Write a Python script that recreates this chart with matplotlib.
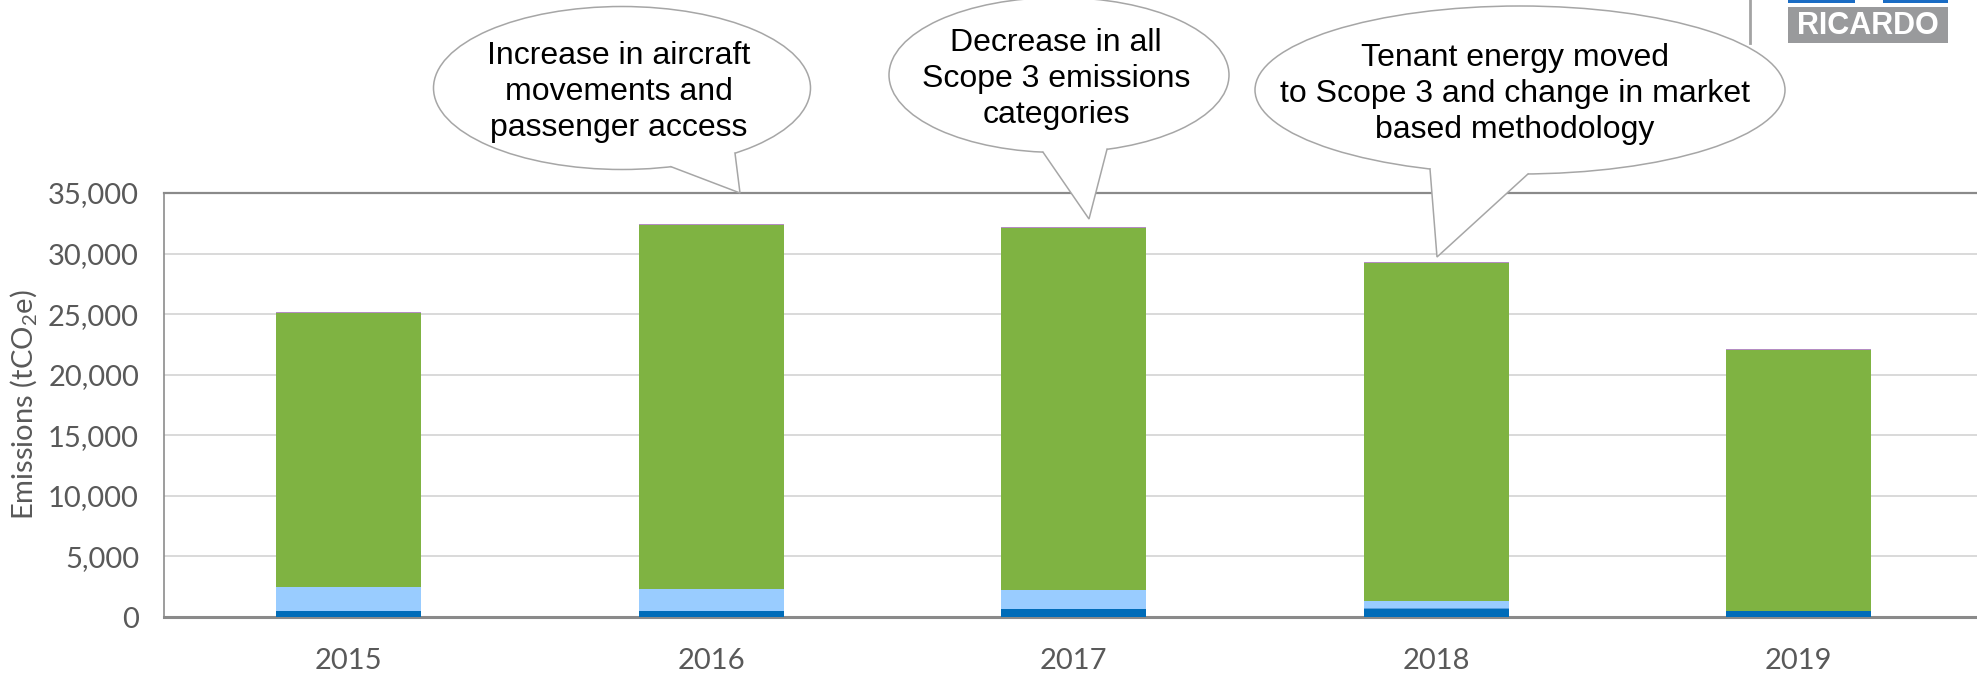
import matplotlib
matplotlib.use("Agg")
import matplotlib.pyplot as plt
import matplotlib.patches as patches
import numpy as np

# --- data ---
years = ["2015", "2016", "2017", "2018", "2019"]
scope1 = [500, 470, 660, 630, 500]          # dark blue
other_small = [0, 0, 0, 80, 0]              # medium blue sliver (2018)
scope2 = [2000, 1870, 1570, 640, 0]         # light blue
scope3 = [22600, 30010, 29870, 27850, 21550]  # green
top_small = [100, 100, 100, 100, 100]       # mauve cap

y_ticks = [0, 5000, 10000, 15000, 20000, 25000, 30000, 35000]

callout_texts = [
    "Increase in aircraft\nmovements and\npassenger access",
    "Decrease in all\nScope 3 emissions\ncategories",
    "Tenant energy moved\nto Scope 3 and change in market\nbased methodology",
]

plt.rcParams["mathtext.default"] = "regular"

W, H = 1977, 677
fig = plt.figure(figsize=(W / 100, H / 100), dpi=100)

# main axes (right side runs off the picture, as in the source slide)
ax = fig.add_axes([164 / W, 60 / H, 1816 / W, 424 / H])
x = np.arange(len(years))
bw = 0.40
series = [
    (scope1, "#006cb9"),
    (other_small, "#5aa0e0"),
    (scope2, "#99ccff"),
    (scope3, "#7fb342"),
    (top_small, "#b48cc2"),
]
bottom = np.zeros(len(years))
for vals, col in series:
    vals = np.array(vals, dtype=float)
    ax.bar(x, vals, bw, bottom=bottom, color=col, edgecolor="none", zorder=3)
    bottom += vals

ax.set_xlim(-0.51, 4.5)
ax.set_ylim(0, 35000)
ax.set_yticks(y_ticks)
ax.set_yticklabels([f"{v:,}" for v in y_ticks])
ax.set_xticks(x)
ax.set_xticklabels(years)
ax.yaxis.grid(True, color="#d9d9d9", linewidth=1.4, zorder=0)
ax.set_axisbelow(True)

for t in ax.get_xticklabels() + ax.get_yticklabels():
    t.set_fontfamily("Lato")
    t.set_fontsize(21)
    t.set_color("#595959")
ax.tick_params(axis="both", length=0)
ax.tick_params(axis="x", pad=22)
ax.tick_params(axis="y", pad=18)

ax.spines["left"].set_color("#8c8c8c")
ax.spines["left"].set_linewidth(1.2)
ax.spines["top"].set_color("#8a8a8a")
ax.spines["top"].set_linewidth(1.6)
ax.spines["bottom"].set_color("#8a8a8a")
ax.spines["bottom"].set_linewidth(2.2)
ax.spines["right"].set_visible(False)

ax.set_ylabel("Emissions (tCO$_2$e)", fontfamily="Lato", fontsize=21,
              color="#595959")
ax.yaxis.set_label_coords(-0.069, 0.5)

# overlay in pixel coordinates for the callouts and the logo
ov = fig.add_axes([0, 0, 1, 1], zorder=5)
ov.set_xlim(0, W)
ov.set_ylim(H, 0)
ov.axis("off")

# (centre, width, height, tail base xs, tip, text pos)
callouts = [
    ((622, 88), 377, 163, (671, 735), (740, 193), (619, 92)),
    ((1059, 75), 340, 155, (1043, 1107), (1089, 219), (1056, 79)),
    ((1520, 90), 530, 168, (1430, 1528), (1437, 257), (1515, 94)),
]
edge = "#a6a6a6"
for (c, w, h, bxs, tip, tpos), txt in zip(callouts, callout_texts):
    cx, cy = c
    ov.add_patch(patches.Ellipse(c, w, h, facecolor="white", edgecolor=edge,
                                 linewidth=1.1, zorder=1))
    base = []
    for bx in bxs:
        dx = (bx - cx) / (w / 2)
        by = cy + (h / 2) * np.sqrt(max(0.0, 1 - dx ** 2))
        base.append((bx, by))
    # white wedge hides the ellipse outline at the tail opening
    inner = [(bx + (cx - bx) * 0.08, by + (cy - by) * 0.08) for bx, by in base]
    ov.add_patch(patches.Polygon([base[0], tip, base[1], inner[1], inner[0]],
                                 closed=True, facecolor="white",
                                 edgecolor="none", zorder=2))
    ov.plot([base[0][0], tip[0], base[1][0]], [base[0][1], tip[1], base[1][1]],
            color=edge, linewidth=1.1, zorder=3, solid_joinstyle="miter")
    ov.text(tpos[0], tpos[1], txt, ha="center", va="center",
            fontfamily="Liberation Sans", fontsize=23, color="black",
            linespacing=1.28, zorder=4)

# logo fragment in the top right corner
ov.plot([1750, 1750], [0, 43], color="#a3a3a3", linewidth=2, zorder=1)
ov.add_patch(patches.Rectangle((1788, 7), 160, 36, facecolor="#999a9c",
                               edgecolor="none", zorder=1))
ov.add_patch(patches.Rectangle((1788, 0), 67, 3, facecolor="#1a6cc4",
                               edgecolor="none", zorder=1))
ov.add_patch(patches.Rectangle((1883, 0), 65, 3, facecolor="#1a6cc4",
                               edgecolor="none", zorder=1))
ov.text(1868, 26, "RICARDO", ha="center", va="center", color="white",
        fontfamily="Liberation Sans", fontweight="bold", fontsize=22, zorder=2)

fig.savefig("out.png", dpi=100)
